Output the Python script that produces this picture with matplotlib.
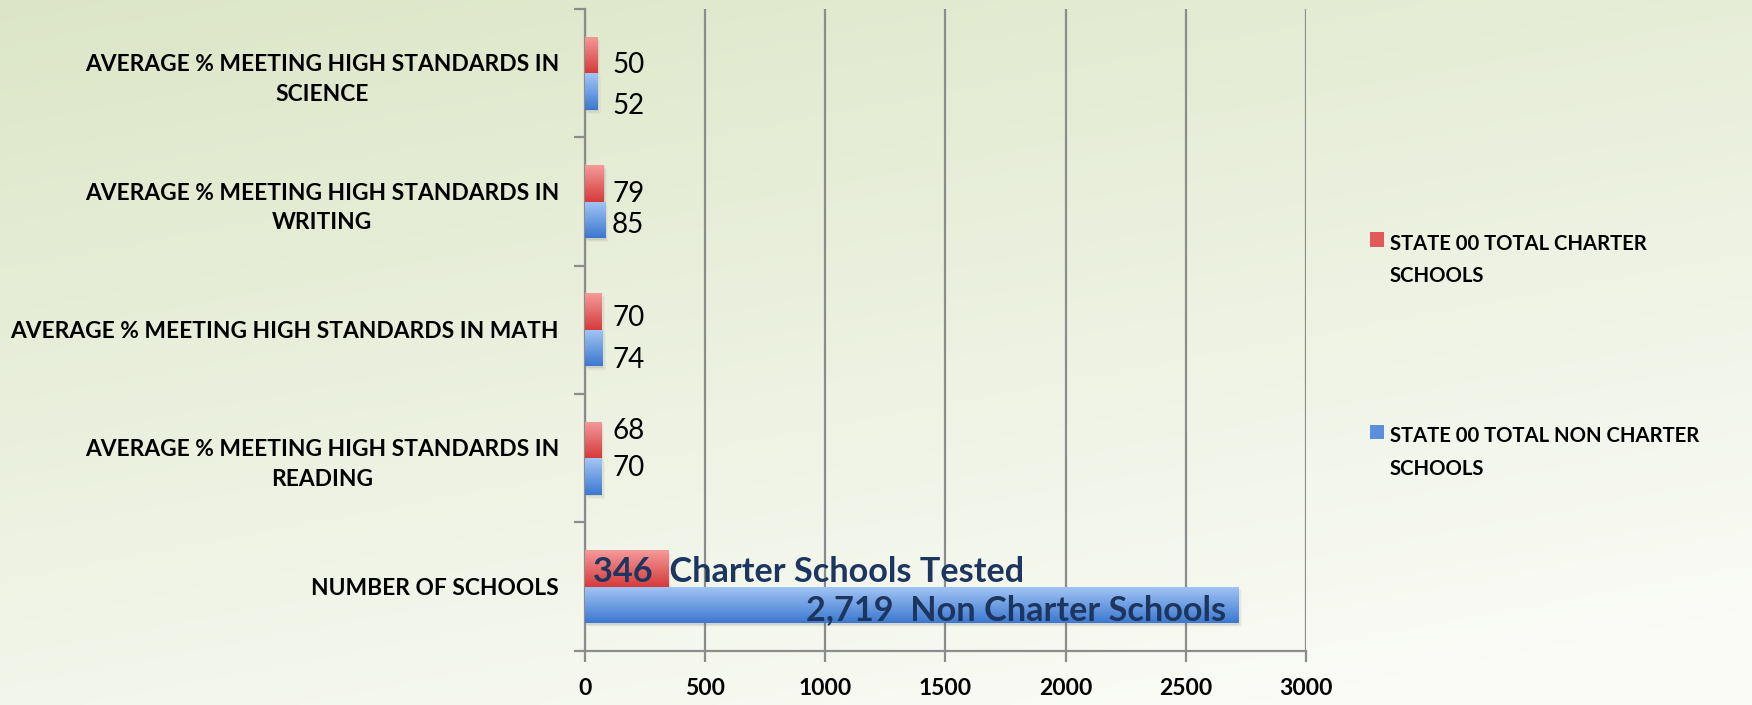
import numpy as np
import matplotlib
matplotlib.use("Agg")
import matplotlib.pyplot as plt
from matplotlib.patches import Rectangle
from matplotlib.colors import LinearSegmentedColormap

plt.rcParams['font.family'] = ['Lato', 'DejaVu Sans']

# data (bottom category first)
categories = ["NUMBER OF SCHOOLS",
              "AVERAGE % MEETING HIGH STANDARDS IN\nREADING",
              "AVERAGE % MEETING HIGH STANDARDS IN MATH",
              "AVERAGE % MEETING HIGH STANDARDS IN\nWRITING",
              "AVERAGE % MEETING HIGH STANDARDS IN\nSCIENCE"]
charter = [346, 68, 70, 79, 50]
non_charter = [2719, 70, 74, 85, 52]
series_names = ["STATE 00 TOTAL CHARTER\nSCHOOLS", "STATE 00 TOTAL NON CHARTER\nSCHOOLS"]
charter_note = "Charter Schools Tested"
non_charter_note = "Non Charter Schools"
xticks = [0, 500, 1000, 1500, 2000, 2500, 3000]

# label nudges (category units), placed by hand in the original
charter_dy = [0, 0.07, -0.05, -0.08, -0.08]
non_dy = [0, 0.07, -0.09, -0.04, -0.11]

red_cmap = LinearSegmentedColormap.from_list("r", ["#d63b3b", "#f59a9a"])
blue_cmap = LinearSegmentedColormap.from_list("b", ["#3d78cf", "#a3c6f6"])
navy = "#1d3660"
grid_col = "#8c8c8c"

fig = plt.figure(figsize=(17.52, 7.05), dpi=100)

# background gradient
bg = fig.add_axes([0, 0, 1, 1], zorder=-10)
yy, xx = np.mgrid[0:1:200j, 0:1:400j]
t = np.clip(0.75 * yy + 0.35 * xx, 0, 1)
c0 = np.array([0xdc, 0xe6, 0xc7]) / 255
c1 = np.array([0xfa, 0xfb, 0xf6]) / 255
img = c0[None, None, :] * (1 - t[..., None]) + c1[None, None, :] * t[..., None]
bg.imshow(img, aspect='auto', extent=(0, 1, 1, 0))
bg.axis('off')

ax = fig.add_axes([0.3337, 0.077, 0.4117, 0.9102])
ax.set_facecolor('none')

y = np.arange(len(categories))
h = 0.285

def grad_bars(bars, cmap):
    for b in bars:
        x0, y0 = b.get_x(), b.get_y()
        w, hh = b.get_width(), b.get_height()
        # soft drop shadow
        for k, a in enumerate([0.10, 0.07, 0.04]):
            ax.add_patch(Rectangle((x0 + 4 + 5 * k, y0 - 0.012 - 0.01 * k), w, hh,
                                   facecolor='#555555', alpha=a, lw=0, zorder=2))
        grad = np.linspace(0, 1, 64).reshape(-1, 1)
        im = ax.imshow(grad, cmap=cmap, aspect='auto', origin='lower',
                       extent=(x0, x0 + w, y0, y0 + hh), zorder=3)
        im.set_clip_path(b)
        b.set_facecolor('none')

rb = ax.barh(y + h / 2, charter, height=h, color='#e05555', lw=0, zorder=3)
bb = ax.barh(y - h / 2, non_charter, height=h, color='#5a90dd', lw=0, zorder=3)
grad_bars(rb, red_cmap)
grad_bars(bb, blue_cmap)

ax.set_xlim(0, 3000)
ax.set_ylim(-0.5, len(categories) - 0.5)

# value labels
for i in range(1, len(categories)):
    ax.text(114, y[i] + h / 2 + charter_dy[i], str(charter[i]), fontsize=20,
            va='center', ha='left', color='black', zorder=5)
    ax.text(114, y[i] - h / 2 + non_dy[i], str(non_charter[i]), fontsize=20,
            va='center', ha='left', color='black', zorder=5)

ax.text(35, y[0] + h / 2 - 0.03, f"{charter[0]}  {charter_note}", fontsize=24.7,
        fontweight='bold', color=navy, va='center', ha='left', zorder=5)
ax.text(non_charter[0] - 53, y[0] - h / 2 - 0.04, f"{non_charter[0]:,}  {non_charter_note}",
        fontsize=24.7, fontweight='bold', color=navy, va='center', ha='right', zorder=5)

# axes styling
ax.set_xticks(xticks)
ax.set_xticklabels([str(v) for v in xticks], fontsize=16.5, fontweight='bold')
ax.xaxis.grid(True, color=grid_col, lw=1.6, zorder=0)
ax.set_axisbelow(True)
ax.tick_params(axis='x', length=8, width=1.6, color=grid_col, pad=11.5)

ax.set_yticks(y)
ax.set_yticklabels(categories, fontsize=16.4, fontweight='bold')
for lab in ax.get_yticklabels():
    lab.set_multialignment('center')
    lab.set_linespacing(1.5)
ax.set_yticks(np.arange(-0.5, len(categories)), minor=True)
ax.tick_params(axis='y', which='major', length=0, pad=18.4)
ax.tick_params(axis='y', which='minor', length=8, width=1.6, color=grid_col)

for s in ['top', 'right']:
    ax.spines[s].set_visible(False)
for s in ['left', 'bottom']:
    ax.spines[s].set_color(grid_col)
    ax.spines[s].set_linewidth(1.6)

# legend drawn by hand to match the original layout
W, H = 1752, 705
leg_cols = ['#e05a5a', '#5b8fdb']
leg_y = [239.5, 432]
for col, name, ly in zip(leg_cols, series_names, leg_y):
    fig.patches.append(Rectangle((1370 / W, 1 - (ly + 7) / H), 14 / W, 14 / H,
                                 transform=fig.transFigure, facecolor=col, lw=0))
    fig.text(1390 / W, 1 - (ly - 6) / H, name, fontsize=14.6, fontweight='bold',
             va='top', ha='left', linespacing=1.8)

fig.savefig("out.png", dpi=100)
